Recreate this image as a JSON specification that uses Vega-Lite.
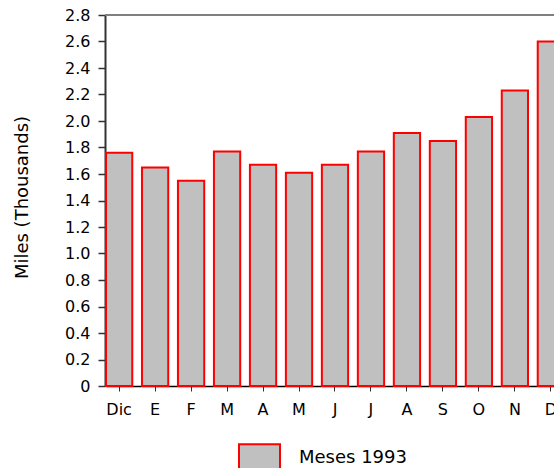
{
  "$schema": "https://vega.github.io/schema/vega-lite/v6.json",
  "width": 449,
  "height": 371,
  "autosize": {"type": "none"},
  "padding": {"left": 105, "top": 15, "right": 0, "bottom": 82},
  "config": {"view": {"stroke": null}, "font": "DejaVu Sans", "axis": {"grid": false}},
  "data": {"values": [
    {"i": 0, "mes": "Dic", "miles": 1.76, "serie": "Meses 1993"},
    {"i": 1, "mes": "E", "miles": 1.65, "serie": "Meses 1993"},
    {"i": 2, "mes": "F", "miles": 1.55, "serie": "Meses 1993"},
    {"i": 3, "mes": "M", "miles": 1.77, "serie": "Meses 1993"},
    {"i": 4, "mes": "A", "miles": 1.67, "serie": "Meses 1993"},
    {"i": 5, "mes": "M", "miles": 1.61, "serie": "Meses 1993"},
    {"i": 6, "mes": "J", "miles": 1.67, "serie": "Meses 1993"},
    {"i": 7, "mes": "J", "miles": 1.77, "serie": "Meses 1993"},
    {"i": 8, "mes": "A", "miles": 1.91, "serie": "Meses 1993"},
    {"i": 9, "mes": "S", "miles": 1.85, "serie": "Meses 1993"},
    {"i": 10, "mes": "O", "miles": 2.03, "serie": "Meses 1993"},
    {"i": 11, "mes": "N", "miles": 2.23, "serie": "Meses 1993"},
    {"i": 12, "mes": "D", "miles": 2.6, "serie": "Meses 1993"}
  ]},
  "layer": [
    {
      "mark": {"type": "bar", "stroke": "#ff0000", "strokeWidth": 2},
      "encoding": {
        "x": {
          "field": "i", "type": "ordinal",
          "scale": {"range": [1, 459], "paddingInner": 0.27, "paddingOuter": 0},
          "axis": {
            "title": null,
            "labelExpr": "['Dic','E','F','M','A','M','J','J','A','S','O','N','D'][datum.value]",
            "labelAngle": 0, "labelFontSize": 16, "labelColor": "#000000",
            "labelPadding": 10, "tickSize": 5, "tickColor": "#333333",
            "domainColor": "#000000", "domainWidth": 1.5, "labelOverlap": false
          }
        },
        "y": {
          "field": "miles", "type": "quantitative",
          "scale": {"domain": [0, 2.8], "nice": false},
          "axis": {
            "values": [0, 0.2, 0.4, 0.6, 0.8, 1.0, 1.2, 1.4, 1.6, 1.8, 2.0, 2.2, 2.4, 2.6, 2.8],
            "labelExpr": "datum.value == 0 ? '0' : format(datum.value, '.1f')",
            "labelOverlap": false,
            "labelFontSize": 16, "labelColor": "#000000", "labelPadding": 8,
            "tickSize": 7, "tickColor": "#333333", "tickWidth": 1.5,
            "domainColor": "#333333", "domainWidth": 2,
            "title": "Miles (Thousands)", "titleFontSize": 18, "titleFontWeight": "normal",
            "titleColor": "#000000", "titleX": -83, "titleY": 182, "titleAngle": -90,
            "titleAlign": "center", "titleBaseline": "middle"
          }
        },
        "fill": {
          "field": "serie", "type": "nominal",
          "scale": {"range": ["#c0c0c0"]},
          "legend": {
            "title": null, "orient": "none", "legendX": 133, "legendY": 421,
            "symbolType": "M-1,-0.65H1V0.65H-1Z", "symbolSize": 1681,
            "symbolStrokeColor": "#ff0000", "symbolStrokeWidth": 2,
            "labelFontSize": 18, "labelColor": "#000000", "labelOffset": 18, "padding": 0
          }
        }
      }
    },
    {
      "mark": {"type": "rule", "color": "#808080", "strokeWidth": 2},
      "encoding": {
        "y": {
          "datum": 2.8, "type": "quantitative",
          "scale": {"domain": [0, 2.8], "nice": false},
          "axis": {
            "values": [0, 0.2, 0.4, 0.6, 0.8, 1.0, 1.2, 1.4, 1.6, 1.8, 2.0, 2.2, 2.4, 2.6, 2.8],
            "labelExpr": "datum.value == 0 ? '0' : format(datum.value, '.1f')",
            "labelOverlap": false,
            "labelFontSize": 16, "labelColor": "#000000", "labelPadding": 8,
            "tickSize": 7, "tickColor": "#333333", "tickWidth": 1.5,
            "domainColor": "#333333", "domainWidth": 2,
            "title": "Miles (Thousands)", "titleFontSize": 18, "titleFontWeight": "normal",
            "titleColor": "#000000", "titleX": -83, "titleY": 182, "titleAngle": -90,
            "titleAlign": "center", "titleBaseline": "middle"
          }
        }
      }
    }
  ]
}
